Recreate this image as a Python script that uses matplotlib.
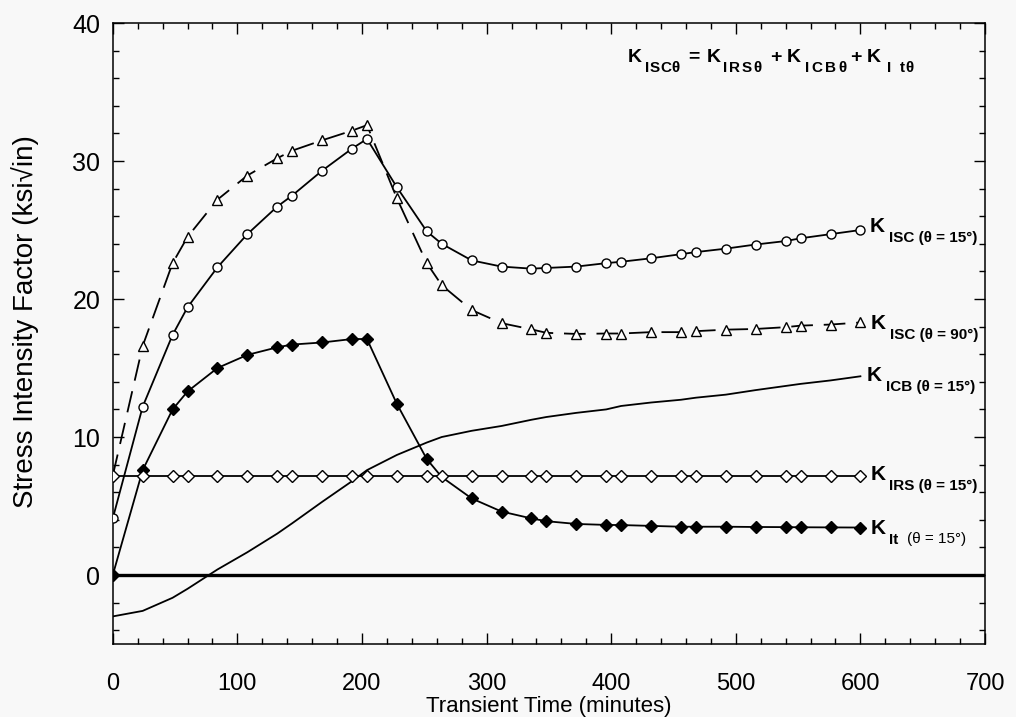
import matplotlib
matplotlib.use('Agg')
import matplotlib.pyplot as plt
from matplotlib.ticker import MultipleLocator

# transient times (minutes)
t = [0, 24, 48, 60, 84, 108, 132, 144, 168, 192, 204, 228, 252, 264, 288,
     312, 336, 348, 372, 396, 408, 432, 456, 468, 492, 516, 540, 552, 576, 600]

k_isc15 = [4.1, 12.2, 17.4, 19.4, 22.3, 24.7, 26.7, 27.5, 29.3, 30.9, 31.6,
           28.1, 24.9, 24.0, 22.8, 22.35, 22.2, 22.25, 22.35, 22.6, 22.7,
           22.95, 23.25, 23.4, 23.65, 23.95, 24.2, 24.4, 24.7, 25.0]
k_isc90 = [7.2, 16.6, 22.6, 24.5, 27.2, 28.95, 30.2, 30.75, 31.5, 32.2, 32.6,
           27.3, 22.6, 21.0, 19.2, 18.25, 17.8, 17.55, 17.47, 17.5, 17.5,
           17.6, 17.6, 17.67, 17.78, 17.83, 17.96, 18.07, 18.15, 18.3]
k_icb15 = [-3.0, -2.6, -1.65, -1.0, 0.4, 1.65, 3.0, 3.75, 5.3, 6.8, 7.6,
           8.7, 9.6, 10.0, 10.45, 10.8, 11.25, 11.45, 11.75, 12.0, 12.25,
           12.5, 12.7, 12.85, 13.07, 13.4, 13.7, 13.85, 14.1, 14.4]
k_irs15 = [7.2, 7.2, 7.2, 7.2, 7.2, 7.2, 7.2, 7.2, 7.2, 7.2, 7.2, 7.2, 7.2,
           7.2, 7.2, 7.2, 7.2, 7.2, 7.2, 7.2, 7.2, 7.2, 7.2, 7.2, 7.2, 7.2,
           7.2, 7.2, 7.2, 7.2]
k_it15 = [0.0, 7.6, 12.0, 13.3, 15.0, 15.95, 16.5, 16.7, 16.85, 17.1, 17.1,
          12.4, 8.4, 7.1, 5.55, 4.6, 4.1, 3.9, 3.7, 3.63, 3.62, 3.56, 3.5,
          3.5, 3.5, 3.48, 3.47, 3.46, 3.45, 3.44]

plt.rcParams['font.family'] = ['Liberation Sans', 'DejaVu Sans']

W, H = 1016, 717
bg = '#f8f8f8'
fig = plt.figure(figsize=(W / 100, H / 100), dpi=100, facecolor=bg)
ax = fig.add_axes([0.111, 0.1018, 0.8585, 0.8661], facecolor=bg)

lw = 1.3
ax.axhline(0, color='black', lw=2.4, zorder=1)
ax.plot(t, k_icb15, color='black', lw=lw, zorder=2)
ax.plot(t, k_isc90, color='black', lw=lw, dashes=(12, 6), marker='^',
        ms=6.5, mfc='white', mec='black', mew=1.0, zorder=3,
        markevery=list(range(1, len(t))))
ax.plot(t, k_isc15, color='black', lw=lw, marker='o', ms=6.5, mfc='white',
        mec='black', mew=1.0, zorder=4)
ax.plot(t, k_it15, color='black', lw=lw, marker='D', ms=6.3, mfc='black',
        mec='black', mew=1.0, zorder=5,
        markevery=[i for i in range(len(t)) if i != 13])
ax.plot(t, k_irs15, color='black', lw=lw, marker='D', ms=6.3, mfc='white',
        mec='black', mew=1.0, zorder=6)

# end-of-curve labels: value, subscript, K offset, subscript offset, baseline offset
end_labels = [
    (k_isc15[-1], 'ISC (θ = 15°)', 6.6, 20.5, -1.7),
    (k_isc90[-1], 'ISC (θ = 90°)', 7.5, 21.0, -4.7),
    (k_icb15[-1], 'ICB (θ = 15°)', 4.5, 18.6, -3.2),
    (k_irs15[-1], 'IRS (θ = 15°)', 7.2, 20.5, -3.4),
    (k_it15[-1], 'It', 7.2, 20.5, -4.3),
]
for val, sub, kx, sx, dy in end_labels:
    ax.annotate('K', xy=(t[-1], val), xytext=(kx, dy), textcoords='offset points',
                ha='left', va='baseline', fontsize=15, fontweight='bold',
                annotation_clip=False)
    ax.annotate(sub, xy=(t[-1], val), xytext=(sx, dy - 7.2),
                textcoords='offset points', ha='left', va='baseline',
                fontsize=11, fontweight='bold', annotation_clip=False)
ax.annotate('(θ = 15°)', xy=(t[-1], k_it15[-1]), xytext=(33.5, -4.3 - 6.5),
            textcoords='offset points', ha='left', va='baseline', fontsize=11,
            annotation_clip=False)

# formula at top right, built piece by piece:
# (left pixel, text, size, drop below K baseline in px, letter spacing px)
formula = [(628, 'K', 14, 0, 0), (645, 'ISCθ', 11, 10.5, 0.3),
           (688, '=', 14, 0, 0), (707, 'K', 14, 0, 0),
           (723, 'IRSθ', 11, 10.5, 1.8), (770, '+', 14, 0, 0),
           (787, 'K', 14, 0, 0), (805, 'ICBθ', 11, 10.5, 2.3),
           (850, '+', 14, 0, 0), (867, 'K', 14, 0, 0),
           (886.5, 'I', 11, 10.5, 0), (900, 'tθ', 11, 10.5, 0.5)]
base_y = 61.7
renderer = fig.canvas.get_renderer()
for px, s, size, drop, track in formula:
    x = px
    for ch in s:
        txt = fig.text(x / W, 1 - (base_y + drop) / H, ch, ha='left',
                       va='baseline', fontsize=size, fontweight='bold')
        x = txt.get_window_extent(renderer).x1 + track

ax.set_xlim(0, 700)
ax.set_ylim(-5, 40)
ax.xaxis.set_major_locator(MultipleLocator(100))
ax.xaxis.set_minor_locator(MultipleLocator(20))
ax.yaxis.set_major_locator(MultipleLocator(10))
ax.yaxis.set_minor_locator(MultipleLocator(2))
ax.tick_params(which='both', direction='in', top=True, right=True, width=1)
ax.tick_params(which='major', length=8)
ax.tick_params(which='minor', length=4)
ax.tick_params(axis='x', which='major', labelsize=17, pad=21)
ax.tick_params(axis='y', which='major', labelsize=18, pad=9)
for s in ax.spines.values():
    s.set_linewidth(1.1)

ax.set_xlabel('Transient Time (minutes)', fontsize=16)
ax.set_ylabel('Stress Intensity Factor (ksi√in)', fontsize=20)
ax.xaxis.set_label_coords(0.5, -0.0837)
ax.yaxis.set_label_coords(-0.085, 0.52)

fig.savefig('out.png', dpi=100, facecolor=bg)
